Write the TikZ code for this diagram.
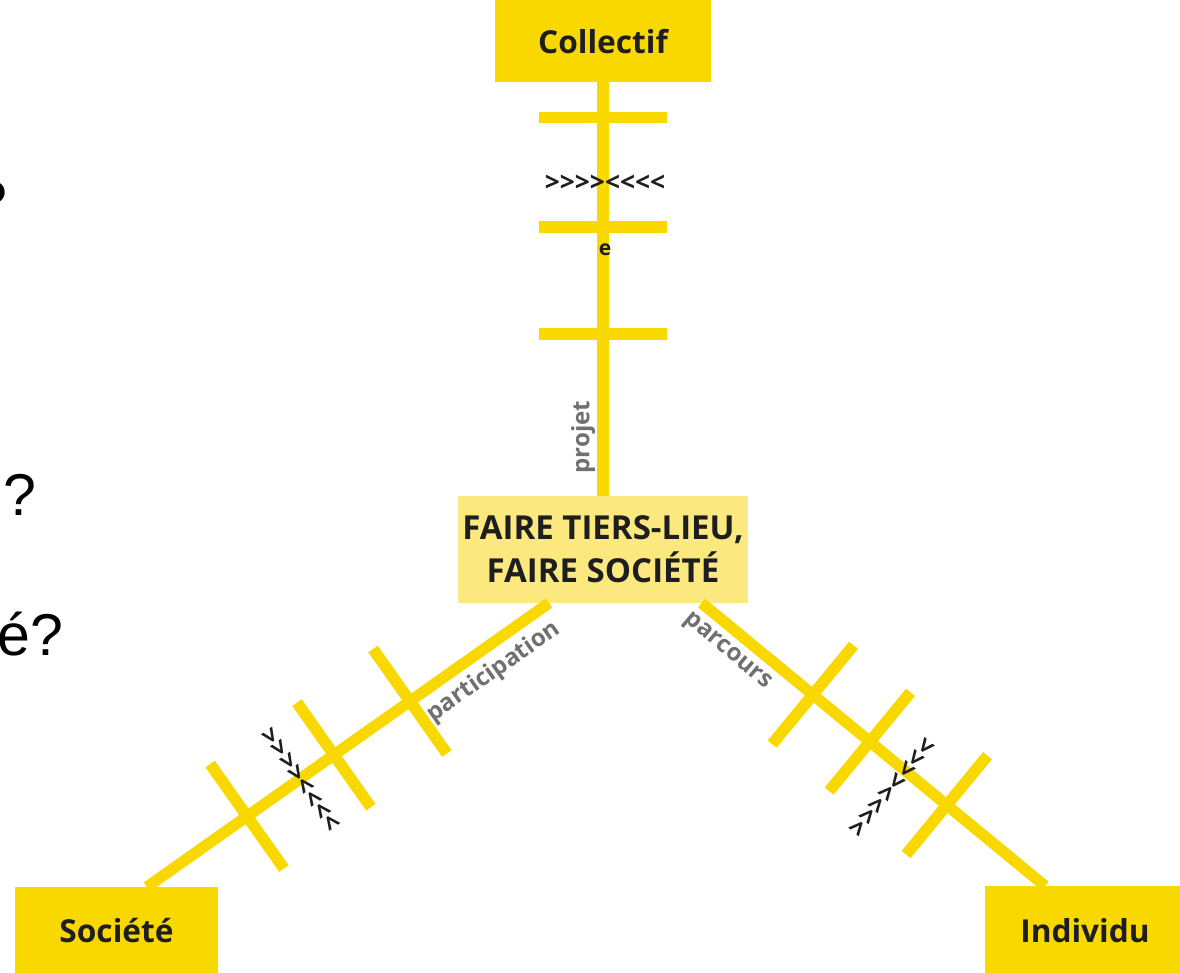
\documentclass[tikz,border=0pt]{standalone}
\usepackage{fontspec}
\setmainfont{Open Sans}
\newfontfamily\arialfont{Liberation Sans}
\usepackage{tikz}
\usetikzlibrary{calc,positioning}
\definecolor{jaune}{HTML}{F9D800}
\definecolor{jaunepale}{HTML}{FBE97F}
\definecolor{gristexte}{HTML}{707070}
\definecolor{encre}{HTML}{1E1E1E}
\newcommand\chevrons{>{}>{}>{}>{}<{}<{}<{}<}

\begin{document}
\begin{tikzpicture}[x=0.02cm,y=-0.02cm,
	boite/.style={fill=jaune,minimum width=4.06cm,minimum height=1.76cm,inner sep=0pt,outer sep=0pt,text=encre,font=\fontsize{18}{20}\selectfont\bfseries},
	grand/.style={fill=jaunepale,minimum width=5.8cm,minimum height=2.14cm,align=center,inner sep=0pt,outer sep=0pt,text=encre,font=\fontsize{18.8}{24.5}\selectfont\bfseries},
	axe/.style={draw=jaune,line width=6.4pt},
	barre/.style={fill=jaune,minimum width=0.23cm,minimum height=2.56cm,inner sep=0pt,sloped},
	mot/.style={text=gristexte,font=\fontsize{13.7}{16}\selectfont\bfseries},
	fleches/.style={text=encre,font=\fontsize{15}{15}\selectfont\bfseries,inner sep=0pt},
	reste/.style={font=\arialfont\fontsize{33.6}{36}\selectfont,inner sep=0pt}]
	\clip (0,0) rectangle (1180,973);
	
	\node[grand] (tiers) at (603,549.5) {FAIRE TIERS-LIEU,\\FAIRE SOCIÉTÉ};
	\node[boite,minimum width=4.32cm,minimum height=1.64cm] (coll) [above=8.28cm of tiers] {Collectif};
	\node[boite] (soc) at (116.5,931) {Société};
	\node[boite,minimum width=4cm,minimum height=1.78cm] (indiv) at (1085,930.5) {Individu};
	
	% les trois axes
	\draw[axe] (coll.south) -- (tiers.north)
		node[barre,pos=0.085] (c1) {}
		node[barre,pos=0.35] (c2) {}
		node[barre,pos=0.609] (c3) {};
	\draw[axe] ($(tiers.south west)!0.314!(tiers.south east)$) -- ($(soc.north west)!0.65!(soc.north east)$)
		node[barre,pos=0.346] (s1) {}
		node[barre,pos=0.535] (s2) {}
		node[barre,pos=0.751] (s3) {};
	\draw[axe] ($(tiers.south west)!0.84!(tiers.south east)$) -- ($(indiv.north west)!0.3!(indiv.north east)$)
		node[barre,pos=0.324] (i1) {}
		node[barre,pos=0.49] (i2) {}
		node[barre,pos=0.714] (i3) {};
	
	\node[mot,rotate=90] (projet) at (583,437) {projet};
	\node[mot,rotate=35] (particip) at (494,672) {participation};
	\node[mot,rotate=-40] (parcours) at (727,652) {parcours};
	
	\node[fleches] (fc) at (605,183) {\chevrons};
	\node[fleches] (fs) at (300,780) [rotate=-55] {\chevrons};
	\node[fleches] (fi) at (893,788) [rotate=50] {\chevrons};
	\node[fleches,font=\fontsize{12}{12}\selectfont\bfseries] (e) at (605,250) {e};
	
	%\node[draw,fit=(tiers) (coll)] {};
	\node[reste,anchor=base west] (q1) at (-25.5,223) {?};
	\node[reste,anchor=base west] (q2) at (3.5,515) {?};
	\node[reste,anchor=base west] (q3) at (-3,655) {é?};
\end{tikzpicture}
\end{document}
